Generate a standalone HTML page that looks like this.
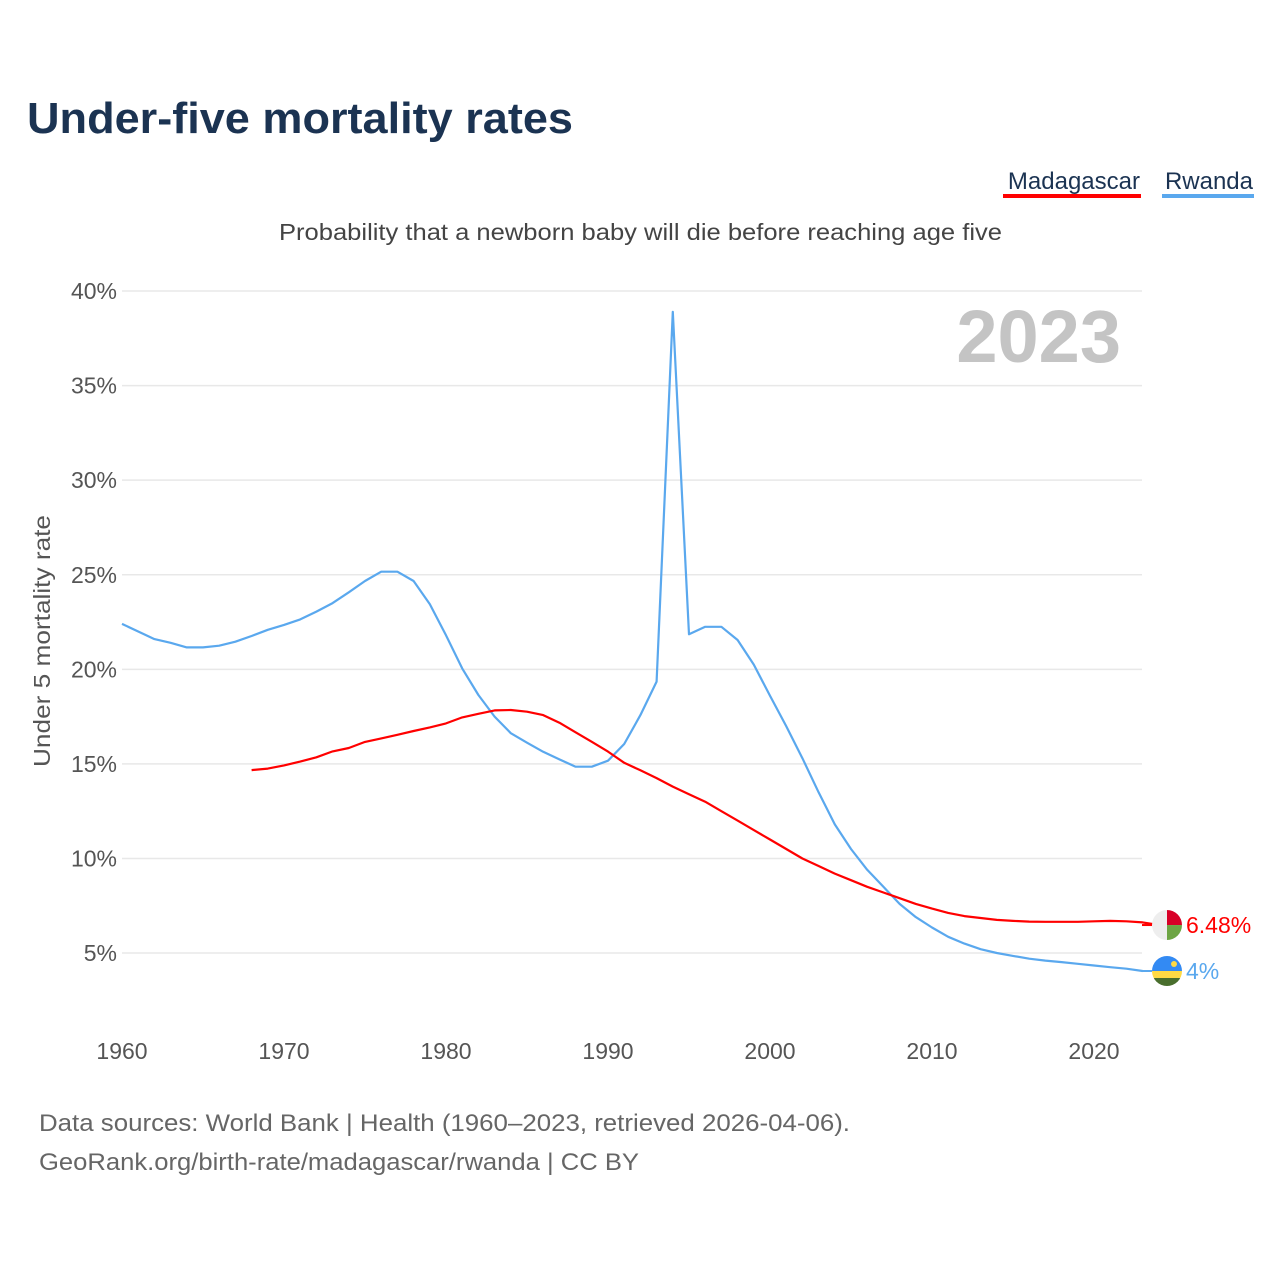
<!DOCTYPE html>
<html><head><meta charset="utf-8">
<style>
body{margin:0;background:#fff;width:1280px;height:1280px;overflow:hidden;font-family:"Liberation Sans",sans-serif;}
</style></head>
<body>
<svg id="chart" width="1280" height="1280" xmlns="http://www.w3.org/2000/svg" font-family="Liberation Sans, sans-serif">
<text x="27" y="133" font-size="44" font-weight="bold" fill="#1b3352" textLength="546" lengthAdjust="spacingAndGlyphs">Under-five mortality rates</text>
<g>
<text x="1140" y="189" font-size="24" fill="#1b3352" text-anchor="end">Madagascar</text>
<rect x="1003" y="194" width="138" height="4" fill="#ff0000"/>
</g>
<g>
<text x="1253" y="189" font-size="24" fill="#1b3352" text-anchor="end">Rwanda</text>
<rect x="1162" y="194" width="92" height="4" fill="#5aa8ee"/>
</g>
<text x="279" y="240" font-size="23" fill="#444" textLength="723" lengthAdjust="spacingAndGlyphs">Probability that a newborn baby will die before reaching age five</text>
<text transform="translate(50,641) rotate(-90)" font-size="23" fill="#555" text-anchor="middle" textLength="252" lengthAdjust="spacingAndGlyphs">Under 5 mortality rate</text>
<g id="grid"></g><g id="xt"></g>
<text x="1121" y="362" font-size="74" font-weight="bold" fill="#c4c4c4" text-anchor="end">2023</text>
<g id="series"></g>
<text x="39" y="1131" font-size="24" fill="#666" textLength="811" lengthAdjust="spacingAndGlyphs">Data sources: World Bank | Health (1960–2023, retrieved 2026-04-06).</text>
<text x="39" y="1170" font-size="24" fill="#666" textLength="600" lengthAdjust="spacingAndGlyphs">GeoRank.org/birth-rate/madagascar/rwanda | CC BY</text>
</svg>
<script>
const yTicks=[5,10,15,20,25,30,35,40];
const xTicks=[1960,1970,1980,1990,2000,2010,2020];
const rwYears0=1960;
const rwanda=[22.4,22.0,21.6,21.4,21.16,21.16,21.25,21.46,21.76,22.09,22.35,22.64,23.05,23.5,24.07,24.67,25.16,25.16,24.67,23.45,21.8,20.05,18.64,17.5,16.62,16.12,15.64,15.24,14.85,14.85,15.17,16.05,17.58,19.35,38.9,21.85,22.25,22.25,21.55,20.25,18.6,17.0,15.3,13.5,11.8,10.5,9.4,8.5,7.6,6.9,6.35,5.86,5.5,5.2,5.0,4.85,4.7,4.6,4.52,4.43,4.34,4.25,4.17,4.05];
const mdYears0=1968;
const madagascar=[14.67,14.75,14.92,15.12,15.35,15.66,15.84,16.16,16.35,16.54,16.74,16.93,17.14,17.46,17.65,17.83,17.85,17.76,17.58,17.18,16.67,16.17,15.65,15.06,14.66,14.25,13.8,13.4,13.0,12.5,12.0,11.5,11.0,10.5,10.0,9.6,9.2,8.85,8.5,8.2,7.9,7.6,7.35,7.12,6.95,6.85,6.75,6.7,6.66,6.65,6.65,6.65,6.68,6.7,6.68,6.62,6.48];
const X=y=>122+(y-1960)*16.2;
const Y=v=>1047.6-v*18.914;
const NS="http://www.w3.org/2000/svg";
function mk(tag,attrs,parent){const e=document.createElementNS(NS,tag);for(const k in attrs)e.setAttribute(k,attrs[k]);parent.appendChild(e);return e;}
const grid=document.getElementById('grid');
yTicks.forEach(t=>{
 const l=mk('line',{x1:122,x2:1142,y1:Y(t),y2:Y(t),stroke:'#e8e8e8','stroke-width':1.5},grid);
 
 
 const tx=mk('text',{x:117,y:Y(t)+8,'font-size':23,fill:'#555','text-anchor':'end'},grid);
 tx.textContent=t+'%';
 
 
});
const xt=document.getElementById('xt');
xTicks.forEach(t=>{
 const tx=mk('text',{x:X(t),y:1059,'font-size':23,fill:'#555','text-anchor':'middle'},xt);
 tx.textContent=t;
 
 
});
const s=document.getElementById('series');
function line(arr,y0,col,name){
 const pts=arr.map((v,i)=>X(y0+i).toFixed(1)+','+Y(v).toFixed(1)).join(' ');
 const p=mk('polyline',{points:pts,fill:'none',stroke:col,'stroke-width':2.2,'stroke-linejoin':'round'},s);
 
 
}
line(rwanda,rwYears0,'#5aa8ee','line-rwanda');
line(madagascar,mdYears0,'#ff0000','line-madagascar');
const mdV=madagascar[madagascar.length-1], rwV=rwanda[rwanda.length-1];
const my=Y(mdV), ry=Y(rwV);
mk('line',{x1:1142,x2:1152,y1:my,y2:my,stroke:'#ff0000','stroke-width':2},s);
mk('line',{x1:1142,x2:1152,y1:ry,y2:ry,stroke:'#5aa8ee','stroke-width':2},s);
const fm=mk('g',{},s);


const cm=mk('clipPath',{id:'cm'},fm);mk('circle',{cx:1167,cy:my,r:15},cm);
mk('rect',{x:1152,y:my-15,width:15,height:30,fill:'#eeeeee','clip-path':'url(#cm)'},fm);
mk('rect',{x:1167,y:my-15,width:15,height:15,fill:'#d80027','clip-path':'url(#cm)'},fm);
mk('rect',{x:1167,y:my,width:15,height:15,fill:'#6da544','clip-path':'url(#cm)'},fm);
const fr=mk('g',{},s);


const cr=mk('clipPath',{id:'cr'},fr);mk('circle',{cx:1167,cy:ry,r:15},cr);
mk('rect',{x:1152,y:ry-15,width:30,height:15,fill:'#338af3','clip-path':'url(#cr)'},fr);
mk('rect',{x:1152,y:ry,width:30,height:7,fill:'#ffda44','clip-path':'url(#cr)'},fr);
mk('rect',{x:1152,y:ry+7,width:30,height:8,fill:'#496e2d','clip-path':'url(#cr)'},fr);
mk('circle',{cx:1174,cy:ry-7,r:3,fill:'#ffda44'},fr);
const lm=mk('text',{x:1186,y:my+8,'font-size':23,fill:'#ff0000'},s);
lm.textContent=mdV.toFixed(2)+'%';


const lr=mk('text',{x:1186,y:ry+8,'font-size':23,fill:'#5aa8ee'},s);
lr.textContent=Math.round(rwV)+'%';


</script>
</body></html>
